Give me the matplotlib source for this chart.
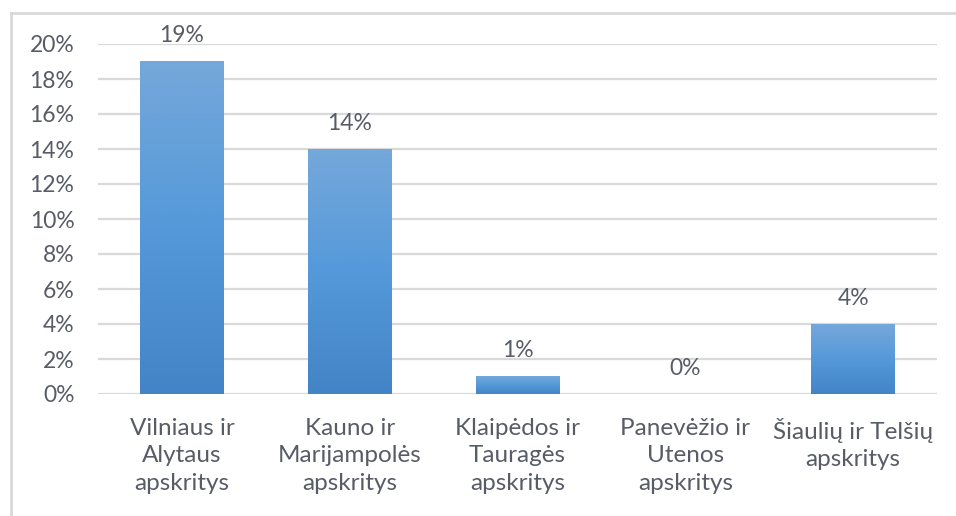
import numpy as np
import matplotlib.pyplot as plt
from matplotlib.colors import LinearSegmentedColormap
from matplotlib.lines import Line2D

# ============================================================================
# DATA
# ============================================================================

categories = [
    "Vilniaus ir\nAlytaus\napskritys",
    "Kauno ir\nMarijampolės\napskritys",
    "Klaipėdos ir\nTauragės\napskritys",
    "Panevėžio ir\nUtenos\napskritys",
    "Šiaulių ir Telšių\napskritys",
]
values = [19, 14, 1, 0, 4]
y_ticks = [0, 2, 4, 6, 8, 10, 12, 14, 16, 18, 20]

# ============================================================================
# STYLE
# ============================================================================

plt.rcParams['font.family'] = ['Lato', 'DejaVu Sans']
TEXT_COLOR = '#585c66'
GRID_COLOR = '#D9D9D9'
FONT_SIZE = 16.5

grad_cmap = LinearSegmentedColormap.from_list(
    "bar_grad", ['#4384C7', '#5599DA', '#75A8DA']
)

fig = plt.figure(figsize=(9.56, 5.16), dpi=100)
ax = fig.add_axes([98 / 956, 122 / 516, 839 / 956, 350 / 516])

x = np.arange(len(categories))
bar_width = 0.5

bars = ax.bar(x, values, width=bar_width, color='none', edgecolor='none', zorder=3)

# gradient fill per bar
gradient = np.linspace(0, 1, 256).reshape(-1, 1)
for rect in bars:
    h = rect.get_height()
    if h <= 0:
        continue
    x0 = rect.get_x()
    ax.imshow(
        gradient,
        cmap=grad_cmap,
        origin='lower',
        aspect='auto',
        extent=(x0, x0 + rect.get_width(), 0, h),
        zorder=3,
    )

# value labels
for xi, v in zip(x, values):
    ax.annotate(
        f"{v}%",
        xy=(xi, v),
        xytext=(0, 11),
        textcoords='offset points',
        ha='center',
        va='bottom',
        fontsize=FONT_SIZE,
        color=TEXT_COLOR,
    )

ax.set_xlim(-0.5, len(categories) - 0.5)
ax.set_ylim(0, 20)
ax.set_yticks(y_ticks)
ax.set_yticklabels([f"{t}%" for t in y_ticks])
ax.set_xticks(x)
ax.set_xticklabels(categories, linespacing=1.4)

ax.tick_params(axis='y', length=0, pad=17, labelsize=FONT_SIZE, labelcolor=TEXT_COLOR)
ax.tick_params(axis='x', length=0, pad=17, labelsize=17.5, labelcolor=TEXT_COLOR)

ax.yaxis.grid(True, color=GRID_COLOR, linewidth=1.6, zorder=0)
ax.set_axisbelow(True)
for spine in ax.spines.values():
    spine.set_visible(False)

# outer frame (only top and left visible in the crop)
fig.add_artist(Line2D([10.5 / 956, 10.5 / 956], [0, 1 - 13 / 516],
                      transform=fig.transFigure, color=GRID_COLOR, linewidth=2))
fig.add_artist(Line2D([10.5 / 956, 1], [1 - 13 / 516, 1 - 13 / 516],
                      transform=fig.transFigure, color=GRID_COLOR, linewidth=2))

plt.savefig("out.png", dpi=100)
